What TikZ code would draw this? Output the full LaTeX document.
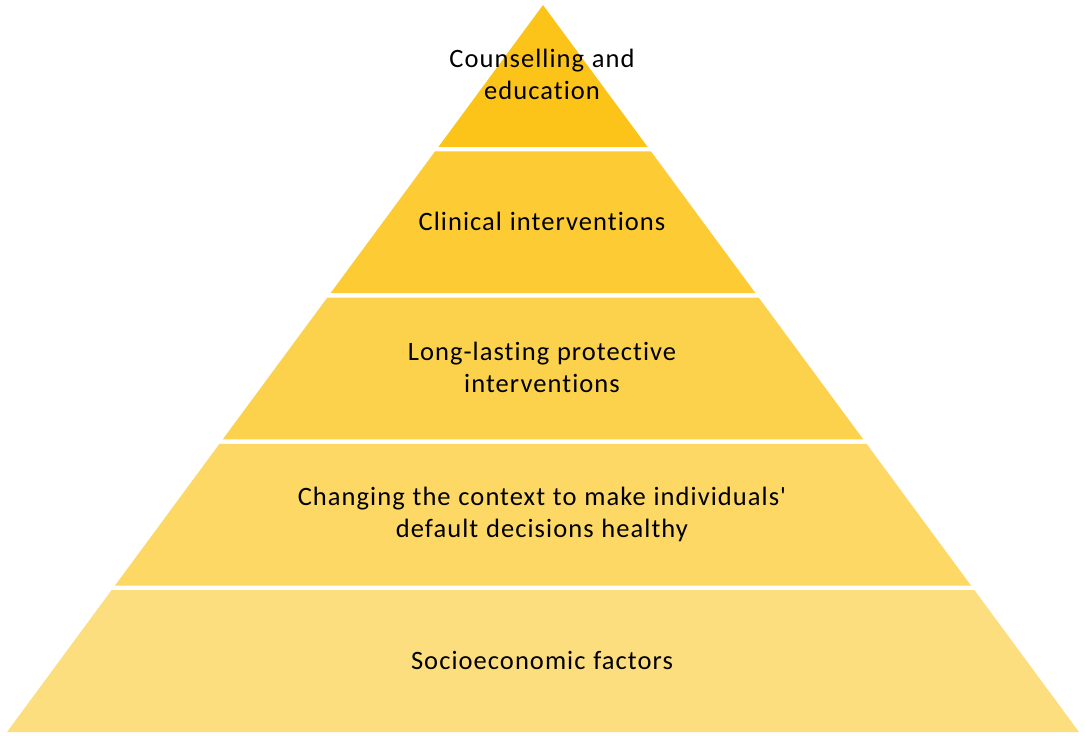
\documentclass[tikz,border=0pt]{standalone}
\usepackage{fontspec}
\setmainfont{Carlito}[Ligatures={TeXOff,NoCommon},LetterSpace=4.0,WordSpace=1.1]
\definecolor{lvA}{HTML}{FCC419}
\definecolor{lvB}{HTML}{FDCB34}
\definecolor{lvC}{HTML}{FCD24C}
\definecolor{lvD}{HTML}{FDD865}
\definecolor{lvE}{HTML}{FDDE7F}
\begin{document}
\begin{tikzpicture}[x=1pt,y=-1pt,
  lbl/.style={align=center,text=black,font=\fontsize{26.5}{32}\selectfont,inner sep=0pt}]
\useasboundingbox (0,0) rectangle (1085,736);
\fill[white] (0,0) rectangle (1085,736);
% levels
\fill[lvA] (543,5) -- (647.5,146.8) -- (438.5,146.8) -- cycle;
\fill[lvB] (435.1,151.3) -- (650.9,151.3) -- (755.4,293.1) -- (330.6,293.1) -- cycle;
\fill[lvC] (327.3,297.6) -- (758.7,297.6) -- (863.3,439.4) -- (222.7,439.4) -- cycle;
\fill[lvD] (219.4,443.9) -- (866.6,443.9) -- (971.1,585.7) -- (114.9,585.7) -- cycle;
\fill[lvE] (111.5,590.2) -- (974.5,590.2) -- (1079,732) -- (7,732) -- cycle;
% labels
\node[lbl] (t1) at (542,74) {Counselling and\\education};
\node[lbl] (t2) at (542,221) {Clinical interventions};
\node[lbl] (t3) at (542,367) {Long-lasting protective\\interventions};
\node[lbl] (t4) at (542,514) {Changing the context to make individuals'\\default decisions healthy};
\node[lbl] (t5) at (542,660) {Socioeconomic factors};
\end{tikzpicture}
\end{document}
